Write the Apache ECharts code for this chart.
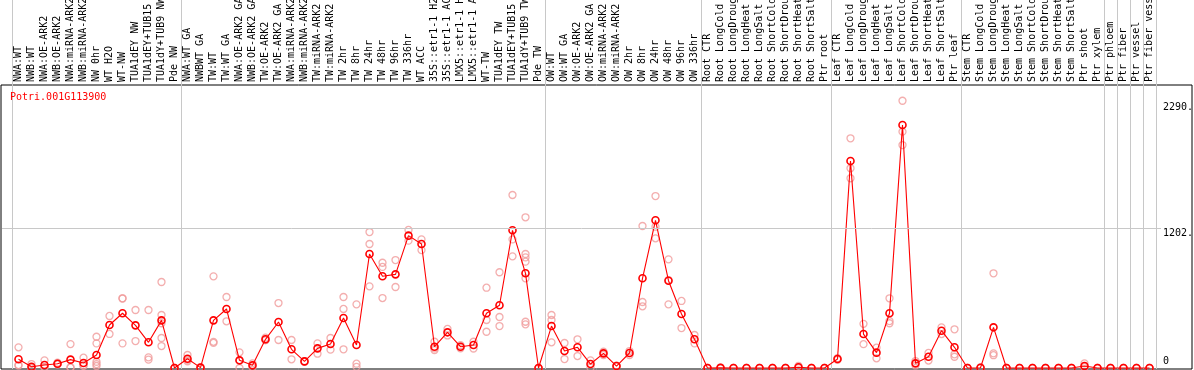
<!DOCTYPE html>
<html><head><meta charset="utf-8">
<script src="https://cdn.jsdelivr.net/npm/echarts@6/dist/echarts.min.js"></script>
<style>html,body{margin:0;padding:0;background:#fff}#c{width:1194px;height:370px}</style>
</head><body><div id="c"></div>
<script>
const chartTitle = 'Potri.001G113900';
const categories = [
 'NWA:WT','NWB:WT','NWA:OE-ARK2','NWB:OE-ARK2','NWA:miRNA-ARK2','NWB:miRNA-ARK2','NW 0hr','WT H2O','WT-NW','TUA1dEY NW','TUA1dEY+TUB15 NW','TUA1dY+TUB9 NW','Pde NW',
 'NWA:WT GA','NWBWT GA','TW:WT','TW:WT GA','NWA:OE-ARK2 GA','NWB:OE-ARK2 GA','TW:OE-ARK2','TW:OE-ARK2 GA','NWA:miRNA-ARK2 GA','NWB:miRNA-ARK2 GA','TW:miRNA-ARK2','TW:miRNA-ARK2 GA','TW 2hr','TW 8hr','TW 24hr','TW 48hr','TW 96hr','TW 336hr','WT ACC','35S::etr1-1 H2O','35S::etr1-1 ACC','LMX5::etr1-1 H2O','LMX5::etr1-1 ACC','WT-TW','TUA1dEY TW','TUA1dEY+TUB15 TW','TUA1dY+TUB9 TW','Pde TW',
 'OW:WT','OW:WT GA','OW:OE-ARK2','OW:OE-ARK2 GA','OW:miRNA-ARK2','OW:miRNA-ARK2 GA','OW 2hr','OW 8hr','OW 24hr','OW 48hr','OW 96hr','OW 336hr',
 'Root CTR','Root LongCold','Root LongDrought','Root LongHeat','Root LongSalt','Root ShortCold','Root ShortDrought','Root ShortHeat','Root ShortSalt','Ptr root',
 'Leaf CTR','Leaf LongCold','Leaf LongDrought','Leaf LongHeat','Leaf LongSalt','Leaf ShortCold','Leaf ShortDrought','Leaf ShortHeat','Leaf ShortSalt','Ptr leaf',
 'Stem CTR','Stem LongCold','Stem LongDrought','Stem LongHeat','Stem LongSalt','Stem ShortCold','Stem ShortDrought','Stem ShortHeat','Stem ShortSalt','Ptr shoot','Ptr xylem',
 'Ptr phloem','Ptr fiber','Ptr vessel','Ptr fiber vessel'
];
const groupStarts = [0,13,41,53,63,73,84,85,86,87];
const means = [
 75,11,26,37,72,43,112,370,471,367,221,410,0,
 80,3,410,508,66,23,247,396,161,57,169,207,430,198,981,789,806,1139,1067,183,307,183,198,471,540,1185,815,0,
 361,146,178,34,126,17,129,772,1271,751,465,247,
 0,1,0,0,0,0,0,6,0,0,
 77,1781,292,132,471,2091,40,97,321,178,
 0,2,350,0,0,0,0,0,0,17,0,
 0,0,0,0
];
const replicates = [
 [178,25,22],[34,0,0],[66,8,4],[45,35,31],[206,5,5],[89,22,18],[269,212,54,34,17],[448,293],[600,598,212],[499,232],[499,92,72],[740,456,385,258,189],[0,0],
 [112,70,58],[6,0],[789,225,216],[611,402],[135,63,0],[40,6],[261,240,240],[559,241],[241,75],[60,54],[212,123],[258,158],[611,508,161],[548,37,10],[1170,1067,703],[906,870,602],[929,697],[1188,1096],[1107,1015],[226,169,155],[336,280],[196,170],[226,168],[691,413,312],[824,439,361],[1489,1107,961],[1297,981,952,915,772,398,376],[0,0],
 [456,413,221],[215,77],[247,103],[66,3],[140,112],[20,14],[146,112],[1222,568,531],[1480,1216,1116],[935,757,548],[577,344],[284,212],
 [0,0],[4,0],[0,0],[0,0],[0,0],[0,0],[0,0],[17,0],[0,0],[0,0],
 [85,70],[1977,1719,1633],[380,205],[175,83],[600,404,385],[2300,2034,1919],[60,22],[130,64],[350,292],[333,118,97],
 [0,0],[5,0],[815,126,110],[0,0],[0,0],[0,0],[0,0],[0,0],[0,0],[40,7],[0,0],
 [0,0],[0,0],[0,0],[0,0]
];
const yTickValues = [2290, 1202, 0];
const yTickLabels = ['2290.', '1202.', '0'];
const refLineValue = 1202;
const yMax = 2427;

const FONT = 'DejaVu Sans Mono';
const colLeft = 12, colW = 13, nCat = categories.length;
const plotLeft = 2, plotRight = 1161, plotTop = 86, plotBottom = 368;
const xMin = (plotLeft - (colLeft + colW / 2)) / colW;
const xMax = (plotRight - (colLeft + colW / 2)) / colW;

const repData = [];
replicates.forEach((arr, i) => arr.forEach(v => repData.push([i, v])));
const meanData = means.map((v, i) => [i, v]);

const markData = yTickValues.map((v, i) => {
  const isRef = v === refLineValue;
  const isZero = v === 0;
  return {
    yAxis: v,
    lineStyle: { color: isRef ? '#c8c8c8' : 'rgba(0,0,0,0)', width: 1, type: 'solid' },
    label: { formatter: yTickLabels[i], verticalAlign: isZero ? 'bottom' : 'top',
      padding: isZero ? [0, 0, 2, 0] : [0, 0, 0, 0] }
  };
});

const gridBase = { outerBoundsMode: 'none', containLabel: false };
const chart = echarts.init(document.getElementById('c'), null, { renderer: 'canvas' });
chart.setOption({
  animation: false,
  backgroundColor: '#fff',
  title: { text: chartTitle, left: 10, top: 92, padding: 0,
    textStyle: { color: '#ff0000', fontFamily: FONT, fontSize: 10, fontWeight: 'normal' } },
  grid: [
    Object.assign({ left: colLeft, width: nCat * colW, top: 0, height: 369 }, gridBase),
    Object.assign({ left: colLeft, width: nCat * colW, top: 85, height: 284 }, gridBase),
    Object.assign({ left: plotLeft, width: plotRight - plotLeft, top: plotTop, height: plotBottom - plotTop }, gridBase),
    Object.assign({ left: 1, width: 1191, top: 85, height: 284, show: true, borderColor: '#000', borderWidth: 1, backgroundColor: 'rgba(0,0,0,0)' }, gridBase)
  ],
  xAxis: [
    { gridIndex: 0, type: 'category', data: categories, boundaryGap: true,
      axisLine: { show: false }, axisTick: { show: false }, axisLabel: { show: false },
      splitLine: { show: true, interval: (idx) => groupStarts.includes(idx), lineStyle: { color: '#c8c8c8', width: 1 } } },
    { gridIndex: 1, type: 'category', data: categories, boundaryGap: true, position: 'top',
      axisLine: { show: false }, axisTick: { show: false }, splitLine: { show: false },
      axisLabel: { show: true, interval: 0, rotate: 90, margin: 3, fontFamily: FONT, fontSize: 10, color: '#000', hideOverlap: false } },
    { gridIndex: 2, type: 'value', min: xMin, max: xMax, show: false },
    { gridIndex: 3, type: 'value', show: false }
  ],
  yAxis: [
    { gridIndex: 0, type: 'value', show: false },
    { gridIndex: 1, type: 'value', show: false },
    { gridIndex: 2, type: 'value', min: 0, max: yMax, show: false },
    { gridIndex: 3, type: 'value', show: false }
  ],
  series: [
    { type: 'scatter', xAxisIndex: 2, yAxisIndex: 2, data: repData, silent: true, z: 2,
      symbol: 'circle', symbolSize: 7,
      itemStyle: { color: 'rgba(0,0,0,0)', borderColor: '#f09a9a', borderWidth: 1.3 },
      markLine: { silent: true, symbol: 'none', animation: false,
        label: { show: true, position: 'end', distance: 2, color: '#000', fontFamily: FONT, fontSize: 10 },
        data: markData } },
    { type: 'line', xAxisIndex: 2, yAxisIndex: 2, data: meanData, silent: true, z: 3, clip: false,
      symbol: 'circle', symbolSize: 7, showAllSymbol: true,
      lineStyle: { color: '#ff0000', width: 1.1 },
      itemStyle: { color: 'rgba(0,0,0,0)', borderColor: '#ff0000', borderWidth: 1.6 } }
  ]
});
</script></body></html>
